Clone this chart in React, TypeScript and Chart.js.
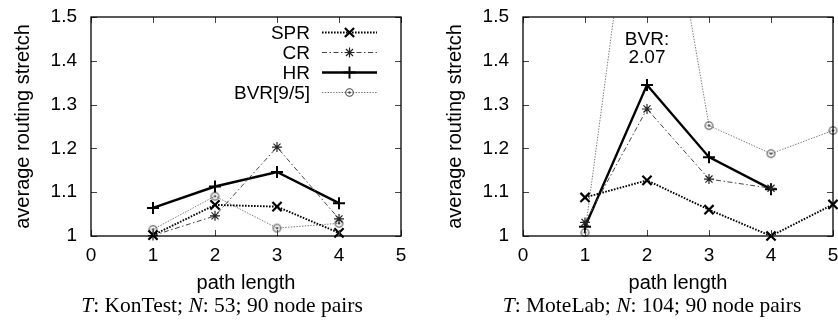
import React, { useEffect, useRef } from 'react';
import { Chart, registerables } from 'chart.js';

Chart.register(...registerables);

// ---------- data ----------
const seriesNames = ['SPR', 'CR', 'HR', 'BVR[9/5]'];
const xTicks = [0, 1, 2, 3, 4, 5];
const yTicks = [1, 1.1, 1.2, 1.3, 1.4, 1.5];

const konPath = [1, 2, 3, 4];
const konSPR = [1.002, 1.071, 1.067, 1.007];
const konCR = [1.001, 1.046, 1.203, 1.039];
const konHR = [1.064, 1.113, 1.146, 1.075];
const konBVR = [1.015, 1.091, 1.018, 1.029];

const motePath = [1, 2, 3, 4, 5];
const moteSPR = [1.088, 1.127, 1.06, 1.0, 1.072];
const moteCR = [1.031, 1.29, 1.13, 1.109];
const moteHR = [1.021, 1.345, 1.18, 1.107];
const moteBVR = [1.008, 2.07, 1.252, 1.188, 1.241];

const bvrNoteLines = ['BVR:', '2.07'];
const bvrNoteX = 2;
const bvrNoteY = [1.447, 1.408];

const xTitle = 'path length';
const yTitle = 'average routing stretch';

// ---------- styling ----------
const SANS = '"Liberation Sans", Arial, Helvetica, sans-serif';
const FS = 19;
const TITLE_FS = 20;

function makeCircleDot(): HTMLCanvasElement {
  const c = document.createElement('canvas');
  c.width = 11;
  c.height = 11;
  const g = c.getContext('2d')!;
  g.strokeStyle = '#444';
  g.lineWidth = 1.1;
  g.beginPath();
  g.arc(5.5, 5.5, 3.8, 0, Math.PI * 2);
  g.stroke();
  g.fillStyle = '#444';
  g.beginPath();
  g.arc(5.5, 5.5, 1.2, 0, Math.PI * 2);
  g.fill();
  return c;
}

type Style = {
  color: string;
  width: number;
  dash: number[];
  point: any;
  radius: number;
  pointWidth: number;
  pointColor: string;
};

function seriesStyles(): Style[] {
  return [
    { color: '#000', width: 1.9, dash: [1.6, 1.4], point: 'crossRot', radius: 6.5, pointWidth: 2.2, pointColor: '#000' },
    { color: '#444', width: 1, dash: [5, 2.5, 1.5, 2.5], point: 'star', radius: 5, pointWidth: 1.2, pointColor: '#222' },
    { color: '#000', width: 2.4, dash: [], point: 'cross', radius: 6, pointWidth: 2, pointColor: '#000' },
    { color: '#777', width: 1, dash: [1.4, 1.4], point: makeCircleDot(), radius: 5, pointWidth: 1, pointColor: '#444' },
  ];
}

function drawMarker(ctx: CanvasRenderingContext2D, s: Style, x: number, y: number) {
  ctx.save();
  ctx.setLineDash([]);
  ctx.strokeStyle = s.pointColor;
  ctx.lineWidth = s.pointWidth;
  const r = s.radius;
  if (s.point instanceof HTMLCanvasElement) {
    ctx.drawImage(s.point, x - s.point.width / 2, y - s.point.height / 2);
  } else {
    ctx.beginPath();
    if (s.point === 'crossRot' || s.point === 'star') {
      const d = r * Math.SQRT1_2;
      ctx.moveTo(x - d, y - d);
      ctx.lineTo(x + d, y + d);
      ctx.moveTo(x - d, y + d);
      ctx.lineTo(x + d, y - d);
    }
    if (s.point === 'cross' || s.point === 'star') {
      ctx.moveTo(x - r, y);
      ctx.lineTo(x + r, y);
      ctx.moveTo(x, y - r);
      ctx.lineTo(x, y + r);
    }
    ctx.stroke();
  }
  ctx.restore();
}

const framePlugin = {
  id: 'gnuFrame',
  afterDatasetsDraw(chart: any, _args: any, opts: any) {
    const { ctx, chartArea: a, scales } = chart;
    const x = scales.x;
    const y = scales.y;
    ctx.save();
    // inward ticks
    ctx.strokeStyle = '#444';
    ctx.lineWidth = 1;
    ctx.beginPath();
    const tl = 6;
    xTicks.forEach((v) => {
      const px = Math.round(x.getPixelForValue(v)) + 0.5;
      ctx.moveTo(px, a.bottom);
      ctx.lineTo(px, a.bottom - tl);
      ctx.moveTo(px, a.top);
      ctx.lineTo(px, a.top + tl);
    });
    yTicks.forEach((v) => {
      const py = Math.round(y.getPixelForValue(v)) + 0.5;
      ctx.moveTo(a.left, py);
      ctx.lineTo(a.left + tl, py);
      ctx.moveTo(a.right, py);
      ctx.lineTo(a.right - tl, py);
    });
    ctx.stroke();
    // frame
    ctx.strokeStyle = '#000';
    ctx.lineWidth = 1.3;
    ctx.strokeRect(a.left, a.top, a.right - a.left, a.bottom - a.top);

    // legend (gnuplot style)
    if (opts && opts.legend) {
      const styles: Style[] = opts.styles;
      ctx.font = `${FS}px ${SANS}`;
      ctx.fillStyle = '#000';
      ctx.textAlign = 'right';
      ctx.textBaseline = 'middle';
      chart.data.datasets.forEach((ds: any, i: number) => {
        const s = styles[i];
        const ry = a.top + 15.5 + i * 20;
        ctx.fillText(ds.label, a.right - 91, ry + 1);
        ctx.save();
        ctx.strokeStyle = s.color;
        ctx.lineWidth = s.width;
        ctx.setLineDash(s.dash);
        ctx.beginPath();
        ctx.moveTo(a.right - 79, ry);
        ctx.lineTo(a.right - 24, ry);
        ctx.stroke();
        ctx.restore();
        drawMarker(ctx, s, a.right - 51.5, ry);
      });
    }
    // annotation
    if (opts && opts.note) {
      ctx.font = `${FS}px ${SANS}`;
      ctx.fillStyle = '#000';
      ctx.textAlign = 'center';
      ctx.textBaseline = 'middle';
      const nx = x.getPixelForValue(opts.note.x);
      opts.note.lines.forEach((t: string, i: number) => {
        ctx.fillText(t, nx, y.getPixelForValue(opts.note.y[i]));
      });
    }
    ctx.restore();
  },
};

function buildDatasets(path: number[], series: number[][], styles: Style[]) {
  return series.map((vals, i) => {
    const s = styles[i];
    return {
      label: seriesNames[i],
      data: vals.map((v, j) => ({ x: path[j], y: v })),
      borderColor: s.color,
      borderWidth: s.width,
      borderDash: s.dash,
      backgroundColor: 'transparent',
      fill: false,
      tension: 0,
      pointStyle: s.point,
      pointRadius: s.radius,
      pointBorderWidth: s.pointWidth,
      pointBorderColor: s.pointColor,
      pointBackgroundColor: 'transparent',
      clip: { left: 12, right: 12, top: 0, bottom: 12 },
    };
  });
}

function fmt(v: number) {
  return String(Number(v.toFixed(1)));
}

function GnuChart(props: { path: number[]; series: number[][]; legend: boolean; note: any }) {
  const ref = useRef<HTMLCanvasElement>(null);
  useEffect(() => {
    const styles = seriesStyles();
    const font = { family: SANS, size: FS };
    const titleFont = { family: SANS, size: TITLE_FS };
    const chart = new Chart(ref.current!, {
      type: 'line',
      data: { datasets: buildDatasets(props.path, props.series, styles) as any },
      plugins: [framePlugin],
      options: {
        animation: false,
        responsive: false,
        maintainAspectRatio: false,
        layout: { padding: { top: 17, bottom: 1, left: 7, right: 18 } },
        plugins: {
          legend: { display: false },
          tooltip: { enabled: false },
          gnuFrame: { legend: props.legend, styles, note: props.note },
        } as any,
        scales: {
          x: {
            type: 'linear',
            min: 0,
            max: 5,
            afterBuildTicks: (s: any) => {
              s.ticks = xTicks.map((v) => ({ value: v }));
            },
            ticks: { color: '#000', font, padding: 8, maxRotation: 0, autoSkip: false, callback: (v: any) => String(v) },
            grid: { display: false, drawTicks: false },
            border: { display: false },
            title: { display: true, text: xTitle, color: '#000', font: titleFont, padding: { top: 0, bottom: 4 } },
            afterFit: (s: any) => {
              s.height = 63;
              s.paddingLeft = 0;
              s.paddingRight = 0;
            },
          },
          y: {
            type: 'linear',
            min: 1,
            max: 1.5,
            afterBuildTicks: (s: any) => {
              s.ticks = yTicks.map((v) => ({ value: v }));
            },
            ticks: { color: '#000', font, padding: 14, autoSkip: false, callback: (v: any) => fmt(Number(v)) },
            grid: { display: false, drawTicks: false },
            border: { display: false },
            title: { display: true, text: yTitle, color: '#000', font: titleFont, padding: { top: 4, bottom: 0 } },
            afterFit: (s: any) => {
              s.width = 84;
              s.paddingTop = 0;
              s.paddingBottom = 0;
            },
          },
        },
      } as any,
    });
    return () => chart.destroy();
  }, []);
  return <canvas ref={ref} width={419} height={300} style={{ display: 'block' }} />;
}

const captionStyle: React.CSSProperties = {
  position: 'absolute',
  top: 295,
  width: 340,
  textAlign: 'center',
  fontFamily: '"Liberation Serif", "Times New Roman", serif',
  fontSize: 21.5,
  lineHeight: 1,
  color: '#000',
  whiteSpace: 'nowrap',
};

export default function App() {
  return (
    <div
      style={{
        position: 'fixed',
        left: 0,
        top: 0,
        width: 838,
        height: 326,
        overflow: 'hidden',
        background: '#fff',
      }}
    >
      <div style={{ position: 'absolute', left: 0, top: 0 }}>
        <GnuChart path={konPath} series={[konSPR, konCR, konHR, konBVR]} legend={true} note={null} />
      </div>
      <div style={{ position: 'absolute', left: 432, top: 0 }}>
        <GnuChart
          path={motePath}
          series={[moteSPR, moteCR, moteHR, moteBVR]}
          legend={false}
          note={{ x: bvrNoteX, y: bvrNoteY, lines: bvrNoteLines }}
        />
      </div>
      <div style={{ ...captionStyle, left: 52 }}>
        <i>T</i>: KonTest; <i>N</i>: 53; 90 node pairs
      </div>
      <div style={{ ...captionStyle, left: 482 }}>
        <i>T</i>: MoteLab; <i>N</i>: 104; 90 node pairs
      </div>
    </div>
  );
}
